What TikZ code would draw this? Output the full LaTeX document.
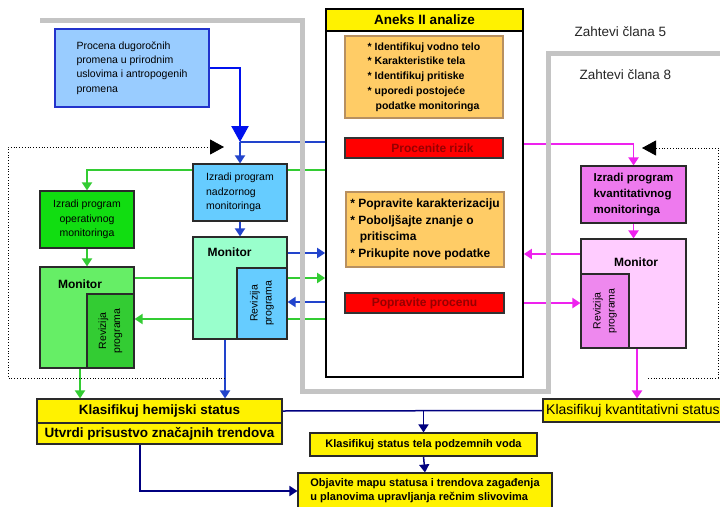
\documentclass[tikz,border=0pt]{standalone}
\usepackage{fontspec}
\setmainfont{Liberation Sans}
\usetikzlibrary{arrows.meta}

\definecolor{bluefill}{HTML}{99CCFF}
\definecolor{bluedraw}{HTML}{2233CC}
\definecolor{skyfill}{HTML}{66CCFF}
\definecolor{aquafill}{HTML}{99FFCC}
\definecolor{grnbright}{HTML}{11DD11}
\definecolor{grnmon}{HTML}{66EE66}
\definecolor{grnrev}{HTML}{33CC33}
\definecolor{orangefill}{HTML}{FFCC66}
\definecolor{orangedraw}{HTML}{B89060}
\definecolor{redtext}{HTML}{960000}
\definecolor{violetfill}{HTML}{EE7AEE}
\definecolor{pinkmon}{HTML}{FFCCFF}
\definecolor{pinkrev}{HTML}{EE88EE}
\definecolor{magline}{HTML}{EE22EE}
\definecolor{blueline}{HTML}{2244CC}
\definecolor{bigblue}{HTML}{0011EE}
\definecolor{navyline}{HTML}{000080}
\definecolor{grnline}{HTML}{33CC33}
\definecolor{grayband}{HTML}{C4C4C4}
\definecolor{boxedge}{HTML}{2A2A2A}

\newcommand\fsz[2]{\fontsize{#1}{#2}\selectfont}

\pgfdeclarelayer{paper}
\pgfdeclarelayer{wires}
\pgfdeclarelayer{band}
\pgfsetlayers{paper,wires,band,main}

\begin{document}
\begin{tikzpicture}[x=1pt,y=-1pt,
  box/.style={rectangle, inner sep=0pt, line width=1.1pt, draw=boxedge},
  conn/.style={line width=1.9pt},
  tip/.style={-{Triangle[length=8pt,width=10pt]}},
  smalltip/.style={-{Triangle[length=6pt,width=7pt]}},
  bigtip/.style={-{Triangle[length=16pt,width=17pt]}},
  loopline/.style={black, line width=0.8pt, dotted, -{Triangle[length=14pt,width=15pt]}},
  monlabel/.style={font=\bfseries\fsz{12}{14}},
  revtext/.style={rotate=90, align=center, font=\fsz{10.5}{14}},
  riskbox/.style={box, draw=black!80, fill=red, text=redtext, font=\bfseries\fsz{12}{14}},
]
\useasboundingbox (0,0) rectangle (720,506);
\begin{pgfonlayer}{paper}
\fill[white] (0,0) rectangle (720,506);
\end{pgfonlayer}

% ---------- boxes ----------
\node[box, draw=bluedraw, fill=bluefill, minimum width=154, minimum height=78,
      align=left, font=\fsz{10.5}{14.4}] (procena) at (132,68)
  {Procena dugoročnih\\promena u prirodnim\\uslovima i antropogenih\\promena};

\node[box, fill=skyfill, minimum width=94, minimum height=57,
      align=left, font=\fsz{10.5}{14.6}] (nadzor) at (240,192.5)
  {Izradi program\\nadzornog\\monitoringa};

\node[box, fill=aquafill, minimum width=94, minimum height=102] (aquamon) at (240,288) {};
\node[box, fill=skyfill, minimum width=50, minimum height=71] (aquarev) at (262,303.5) {};

\node[box, fill=grnbright, minimum width=94, minimum height=57,
      align=center, font=\fsz{10.5}{14.6}] (oper) at (87,219.5)
  {Izradi program\\operativnog\\monitoringa};

\node[box, fill=grnmon, minimum width=94, minimum height=101] (grnmonbox) at (87,317.5) {};
\node[box, fill=grnrev, minimum width=47, minimum height=74] (grnrevbox) at (110.5,331) {};

\node[box, fill=violetfill, minimum width=105, minimum height=57,
      align=left, font=\bfseries\fsz{11.5}{15.8}] (kvant) at (633.5,194.5)
  {Izradi program\\kvantitativnog\\monitoringa};

\node[box, fill=pinkmon, minimum width=105, minimum height=109] (pinkmonbox) at (633.5,293.5) {};
\node[box, fill=pinkrev, minimum width=48, minimum height=74] (pinkrevbox) at (605,311) {};

% annex block
\node[rectangle, draw=black, line width=1.8pt, fill=white, inner sep=0pt,
      minimum width=197, minimum height=368] (aneks) at (424.5,193) {};
\node[box, draw=black, fill=yellow, minimum width=197, minimum height=22,
      font=\bfseries\fsz{13.5}{16}] (aneksh) at (424.5,20) {Aneks II analize};

\node[box, draw=orangedraw, fill=orangefill, minimum width=158, minimum height=82,
      align=left, font=\bfseries\fsz{10.5}{14.8}] (ora) at (424,77)
  {* Identifikuj vodno telo\\* Karakteristike tela\\* Identifikuj pritiske\\* uporedi postojeće\\\hspace*{0.75em}podatke monitoringa};
\node[riskbox, minimum width=158, minimum height=20] (rizik) at (424,148)
  {\hspace*{17pt}Procenite rizik};

\node[box, draw=orangedraw, fill=orangefill, minimum width=158, minimum height=75,
      align=left, font=\bfseries\fsz{12}{16.6}] (orb) at (425,229.5)
  {* Popravite karakterizaciju\\* Poboljšajte znanje o\\\hspace*{0.8em}pritiscima\\* Prikupite nove podatke};
\node[riskbox, minimum width=159, minimum height=20] (procenu) at (424.5,303)
  {Popravite procenu};

% result boxes
\node[box, fill=yellow, minimum width=245, minimum height=24,
      font=\bfseries\fsz{13.5}{16}] (hem) at (159.5,411) {Klasifikuj hemijski status};
\node[box, fill=yellow, minimum width=245, minimum height=21,
      font=\bfseries\fsz{13.5}{16}] (trend) at (159.5,433.5) {Utvrdi prisustvo značajnih trendova};
\node[box, fill=yellow, minimum width=180, minimum height=23,
      font=\fsz{14}{16}] (kvstat) at (633,410.5) {Klasifikuj kvantitativni status};
\node[box, fill=yellow, minimum width=227, minimum height=23,
      font=\bfseries\fsz{11}{13}] (tela) at (423.5,444.5) {Klasifikuj status tela podzemnih voda};
\node[box, fill=yellow, minimum width=254, minimum height=36,
      align=left, font=\bfseries\fsz{11}{14}] (objava) at (425,491)
  {Objavite mapu statusa i trendova zagađenja\\u planovima upravljanja rečnim slivovima};

% labels inside monitor boxes
\node[monlabel] (monA) at (229.5,252) {Monitor};
\node[monlabel] (monG) at (80,284) {Monitor};
\node[monlabel] (monP) at (636,262) {Monitor};
\node[revtext] (revA) at (aquarev.center) {Revizija\\programa};
\node[revtext] (revG) at (grnrevbox.center) {Revizija\\programa};
\node[revtext] (revP) at (pinkrevbox.center) {Revizija\\programa};

% headings on the right
\node[anchor=west, font=\fsz{13.5}{16}, text=black!85] (z5) at (571,32) {Zahtevi člana 5};
\node[anchor=west, font=\fsz{13.5}{16}, text=black!85] (z8) at (576,75) {Zahtevi člana 8};

% ---------- helper levels for the horizontal wires ----------
\coordinate (y142) at (0,142);
\coordinate (y144) at (0,144);
\coordinate (y170) at (0,170);
\coordinate (y253) at (0,253);
\coordinate (y254) at (0,254);
\coordinate (y278) at (0,278);
\coordinate (y302) at (0,302);
\coordinate (y303) at (0,303);
\coordinate (y319) at (0,319);
\coordinate (x80) at (80,0);
\coordinate (x140) at (140,0);
\coordinate (x225) at (225,0);
\coordinate (x637) at (637,0);
\coordinate (jblue) at (240,142);
\coordinate (jnavy) at (tela.north |- hem.east);

% ---------- connectors ----------
\begin{pgfonlayer}{wires}
  % long-term change assessment feeds the surveillance programme
  \draw[bigblue, line width=2.4pt, bigtip] (procena.east) -| (jblue);
  \draw[conn, blueline] (aneks.west |- y142) -- (jblue);
  \draw[conn, blueline, tip] (jblue) -- (nadzor.north);
  % operational programme branch
  \draw[conn, grnline, tip] (aneks.west |- y170) -| (oper.north);
  \draw[conn, grnline, tip] (oper.south) -- (grnmonbox.north);
  \draw[conn, blueline, tip] (nadzor.south) -- (aquamon.north);
  % exchanges with the annex block
  \draw[conn, blueline, tip] (aquamon.east |- y253) -- (aneks.west |- y253);
  \draw[conn, grnline, tip] (grnmonbox.east |- y278) -- (aneks.west |- y278);
  \draw[conn, blueline, tip] (aneks.west |- y302) -- (aquarev.east |- y302);
  \draw[conn, grnline, tip] (aneks.west |- y319) -- (grnrevbox.east |- y319);
  % inside the annex
  \draw[black, line width=1pt, smalltip] (ora.south) -- (rizik.north);
  \draw[black, line width=1pt, smalltip] (orb.south) -- (procenu.north);
  % quantitative branch
  \draw[conn, magline, tip] (aneks.east |- y144) -| (kvant.north);
  \draw[conn, magline, tip] (kvant.south) -- (pinkmonbox.north);
  \draw[conn, magline, tip] (pinkmonbox.west |- y254) -- (aneks.east |- y254);
  \draw[conn, magline, tip] (aneks.east |- y303) -- (pinkrevbox.west |- y303);
  \draw[conn, magline, tip] (pinkmonbox.south -| x637) -- (kvstat.north -| x637);
  % classification
  \draw[conn, grnline, tip] (grnmonbox.south -| x80) -- (hem.north -| x80);
  \draw[conn, blueline, tip] (aquamon.south -| x225) -- (hem.north -| x225);
  \draw[navyline, line width=1.5pt] (hem.east) -- (kvstat.west);
  \draw[navyline, line width=1.5pt, tip] (jnavy) -- (tela.north);
  \draw[navyline, line width=1.5pt, tip] (tela.south) -- (objava.north);
  \draw[navyline, line width=1.5pt, tip] (trend.south -| x140) |- (objava.west);
  % review loops
  \draw[loopline] (225,378) -- (8,378) -- (8,147) -- (224,147);
  \draw[loopline] (648,378) -- (718,378) -- (718,148) -- (642,148);
\end{pgfonlayer}

% article requirement boundaries
\begin{pgfonlayer}{band}
  \draw[grayband, line width=5pt] (40,20) -- (302,20) -- (302,391) -- (548,391) -- (548,53) -- (722,53);
\end{pgfonlayer}
\end{tikzpicture}
\end{document}
